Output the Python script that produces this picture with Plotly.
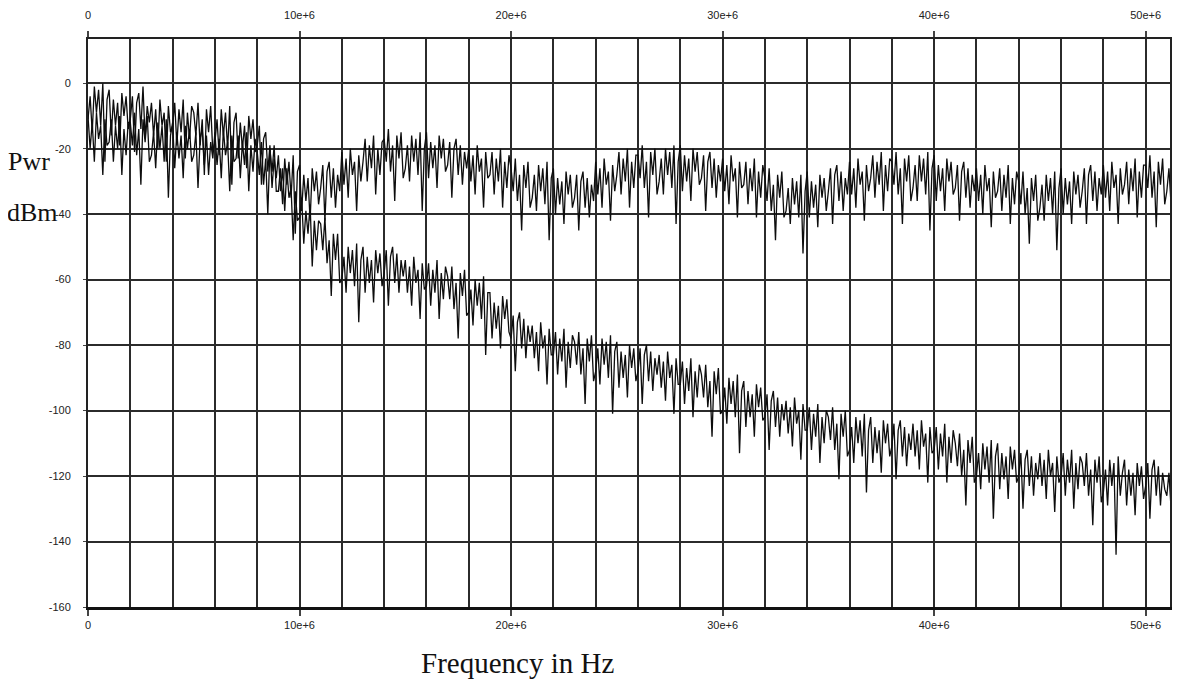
import plotly.graph_objects as go

# Frequency grid: samples every 0.1 MHz from 0 Hz
FREQ_STEP_HZ = 100000

# Upper trace (flat noise floor), dBm, 10 samples per MHz
upper_dbm = [
    -10, -20, -12, -24, -9, -17, -13, -28, -11, -19,
    -18, -11, -24, -13, -20, -10, -28, -14, -22, -12,
    -12, -19, -9, -22, -14, -31, -11, -18, -10, -24,
    -22, -15, -26, -12, -20, -13, -24, -11, -35, -16,
    -12, -26, -15, -23, -16, -29, -13, -20, -14, -24,
    -22, -15, -32, -17, -14, -25, -16, -28, -18, -23,
    -15, -25, -17, -29, -14, -22, -18, -33, -16, -24,
    -23, -16, -29, -18, -25, -15, -33, -19, -27, -17,
    -21, -28, -18, -31, -23, -40, -20, -27, -19, -33,
    -33, -26, -37, -23, -31, -24, -35, -22, -46, -27,
    -25, -39, -28, -36, -29, -42, -26, -33, -27, -37,
    -32, -25, -42, -27, -24, -35, -26, -38, -28, -33,
    -21, -31, -23, -35, -20, -28, -24, -39, -22, -30,
    -24, -17, -30, -19, -26, -16, -34, -20, -28, -18,
    -17, -24, -14, -27, -19, -36, -16, -23, -15, -29,
    -26, -19, -30, -16, -24, -17, -28, -15, -39, -20,
    -15, -29, -18, -26, -19, -32, -16, -23, -17, -27,
    -25, -18, -35, -20, -17, -28, -19, -31, -21, -26,
    -20, -30, -22, -34, -19, -27, -23, -38, -21, -29,
    -28, -21, -34, -23, -30, -20, -38, -24, -32, -22,
    -26, -33, -23, -36, -28, -45, -25, -32, -24, -38,
    -35, -28, -39, -25, -33, -26, -37, -24, -48, -29,
    -26, -40, -29, -37, -30, -43, -27, -34, -28, -38,
    -35, -28, -45, -30, -27, -38, -29, -41, -31, -36,
    -24, -34, -26, -38, -23, -31, -27, -42, -25, -33,
    -28, -21, -34, -23, -30, -20, -38, -24, -32, -22,
    -22, -29, -19, -32, -24, -41, -21, -28, -20, -34,
    -30, -23, -34, -20, -28, -21, -32, -19, -43, -24,
    -19, -33, -22, -30, -23, -36, -20, -27, -21, -31,
    -29, -22, -39, -24, -21, -32, -23, -35, -25, -30,
    -23, -33, -25, -37, -22, -30, -26, -41, -24, -32,
    -31, -24, -37, -26, -33, -23, -41, -27, -35, -25,
    -29, -36, -26, -39, -31, -48, -28, -35, -27, -41,
    -39, -32, -43, -29, -37, -30, -41, -28, -52, -33,
    -27, -41, -30, -38, -31, -44, -28, -35, -29, -39,
    -33, -26, -43, -28, -25, -36, -27, -39, -29, -34,
    -24, -34, -26, -38, -23, -31, -27, -42, -25, -33,
    -29, -22, -35, -24, -31, -21, -39, -25, -33, -23,
    -24, -31, -21, -34, -26, -43, -23, -30, -22, -36,
    -32, -25, -36, -22, -30, -23, -34, -21, -45, -26,
    -22, -36, -25, -33, -26, -39, -23, -30, -24, -34,
    -32, -25, -42, -27, -24, -35, -26, -38, -28, -33,
    -26, -36, -28, -40, -25, -33, -29, -44, -27, -35,
    -33, -26, -39, -28, -35, -25, -43, -29, -37, -27,
    -30, -37, -27, -40, -32, -49, -29, -36, -28, -42,
    -38, -31, -42, -28, -36, -29, -40, -27, -51, -32,
    -26, -40, -29, -37, -30, -43, -27, -34, -28, -38,
    -33, -26, -43, -28, -25, -36, -27, -39, -29, -34,
    -25, -35, -27, -39, -24, -32, -28, -43, -26, -34,
    -31, -24, -37, -26, -33, -23, -41, -27, -35, -25,
    -25, -32, -22, -35, -27, -44, -24, -31, -23, -37,
    -33, -26, -37,
]

# Lower trace (falling spectrum), dBm, 10 samples per MHz
lower_dbm = [
    -11, -4, -15, -1, -9, -2, -13, 0, -24, -5,
    -2, -16, -5, -13, -6, -19, -3, -10, -4, -14,
    -11, -4, -21, -6, -3, -14, -1, -17, -7, -12,
    -6, -16, -8, -20, -5, -13, -9, -24, -7, -15,
    -13, -6, -19, -8, -15, -5, -23, -9, -17, -7,
    -9, -16, -6, -19, -11, -28, -8, -15, -7, -21,
    -18, -11, -22, -8, -16, -9, -20, -7, -31, -12,
    -9, -23, -12, -20, -13, -26, -10, -17, -11, -21,
    -19, -13, -31, -17, -15, -27, -19, -32, -23, -29,
    -22, -33, -26, -39, -26, -35, -32, -48, -33, -42,
    -41, -35, -49, -39, -46, -37, -56, -42, -51, -42,
    -43, -51, -41, -55, -48, -65, -46, -54, -46, -61,
    -60, -53, -64, -50, -58, -51, -62, -49, -73, -54,
    -50, -64, -53, -61, -54, -67, -51, -58, -52, -62,
    -58, -51, -68, -53, -50, -61, -52, -64, -54, -59,
    -54, -64, -56, -68, -53, -61, -57, -72, -55, -63,
    -62, -55, -68, -57, -64, -54, -72, -58, -66, -56,
    -59, -66, -56, -69, -61, -78, -58, -65, -57, -71,
    -70, -63, -74, -60, -68, -61, -72, -59, -83, -64,
    -64, -78, -67, -75, -68, -81, -65, -72, -66, -76,
    -78, -71, -88, -73, -70, -81, -72, -84, -74, -79,
    -74, -84, -76, -88, -73, -81, -77, -92, -75, -83,
    -83, -76, -89, -78, -85, -75, -93, -79, -87, -77,
    -79, -86, -76, -89, -81, -98, -78, -85, -77, -91,
    -88, -81, -92, -78, -86, -79, -90, -77, -101, -82,
    -79, -93, -82, -90, -83, -96, -80, -87, -81, -91,
    -88, -81, -98, -83, -80, -91, -82, -94, -84, -89,
    -83, -93, -85, -97, -82, -90, -86, -101, -84, -92,
    -92, -85, -98, -87, -94, -84, -102, -88, -96, -86,
    -89, -96, -86, -99, -91, -108, -88, -95, -87, -101,
    -100, -93, -104, -90, -98, -91, -102, -89, -113, -94,
    -91, -105, -94, -102, -95, -108, -92, -99, -93, -103,
    -102, -95, -112, -97, -94, -105, -96, -108, -98, -103,
    -97, -107, -99, -111, -96, -104, -100, -115, -98, -106,
    -106, -99, -112, -101, -108, -98, -116, -102, -110, -100,
    -102, -109, -99, -112, -104, -121, -101, -108, -100, -114,
    -112, -105, -116, -102, -110, -103, -114, -101, -125, -106,
    -102, -116, -105, -113, -106, -119, -103, -110, -104, -114,
    -111, -104, -121, -106, -103, -114, -105, -117, -107, -112,
    -104, -114, -106, -118, -103, -111, -107, -122, -105, -113,
    -112, -105, -118, -107, -114, -104, -122, -108, -116, -106,
    -110, -117, -107, -120, -112, -129, -109, -116, -108, -122,
    -120, -113, -124, -110, -118, -111, -122, -109, -133, -114,
    -110, -124, -113, -121, -114, -127, -111, -118, -112, -122,
    -120, -113, -130, -115, -112, -123, -114, -126, -116, -121,
    -113, -123, -115, -127, -112, -120, -116, -131, -114, -122,
    -120, -113, -126, -115, -122, -112, -130, -116, -124, -114,
    -116, -123, -113, -126, -118, -135, -115, -122, -114, -128,
    -125, -118, -129, -115, -123, -116, -144, -114, -126, -119,
    -115, -129, -118, -126, -119, -132, -116, -123, -117, -127,
    -123, -116, -133, -118, -115, -126, -117, -129, -119, -124,
    -126, -119, -130,
]

x_tick_values = [0, 10e6, 20e6, 30e6, 40e6, 50e6]
x_tick_labels = ["0", "10e+6", "20e+6", "30e+6", "40e+6", "50e+6"]
y_tick_values = [0, -20, -40, -60, -80, -100, -120, -140, -160]
y_tick_labels = ["0", "-20", "-40", "-60", "-80", "-100", "-120", "-140", "-160"]

freq_upper = [i * FREQ_STEP_HZ for i in range(len(upper_dbm))]
freq_lower = [i * FREQ_STEP_HZ for i in range(len(lower_dbm))]

LINE = "#0d0d0d"
GRID = "#2b2b2b"
TICKFONT = dict(family="Liberation Sans, Arial, sans-serif", size=11, color="#222222")
SIDEFONT = dict(family="Liberation Serif, Times New Roman, serif", size=26, color="#111111")
XLABELFONT = dict(family="Liberation Serif, Times New Roman, serif", size=29, color="#111111")

fig = go.Figure()
fig.add_trace(go.Scatter(x=freq_lower, y=lower_dbm, mode="lines",
                         line=dict(color=LINE, width=1.3), showlegend=False, hoverinfo="skip"))
fig.add_trace(go.Scatter(x=freq_upper, y=upper_dbm, mode="lines",
                         line=dict(color=LINE, width=1.3), showlegend=False, hoverinfo="skip"))
# carrier for the top frequency axis
fig.add_trace(go.Scatter(x=[None], y=[None], xaxis="x2", mode="lines",
                         showlegend=False, hoverinfo="skip"))

X_RANGE = [0, 51.15e6]
Y_RANGE = [-160, 13.5]

common_x = dict(
    range=X_RANGE,
    tickmode="array",
    tickvals=x_tick_values,
    ticktext=x_tick_labels,
    tickfont=TICKFONT,
    ticks="outside",
    ticklen=6,
    tickwidth=1.5,
    tickcolor="#444444",
    zeroline=False,
    automargin=False,
)

# the page body adds an 8px offset, so margins are shifted to keep the
# plot area at the reference's pixel position
fig.update_layout(
    width=1185,
    height=688,
    margin=dict(l=80, r=23, t=31, b=89),
    paper_bgcolor="white",
    plot_bgcolor="white",
    xaxis=dict(
        **common_x,
        showgrid=True,
        gridcolor=GRID,
        gridwidth=2,
        minor=dict(tickmode="linear", tick0=0, dtick=2e6, showgrid=True,
                   gridcolor=GRID, gridwidth=2, ticks=""),
        showline=True,
        linecolor="#111111",
        linewidth=3,
        mirror=False,
        side="bottom",
        ticklabelstandoff=0,
    ),
    xaxis2=dict(
        **common_x,
        overlaying="x",
        side="top",
        showgrid=False,
        showline=True,
        linecolor="#222222",
        linewidth=2,
        ticklabelstandoff=8,
    ),
    yaxis=dict(
        range=Y_RANGE,
        tickmode="array",
        tickvals=y_tick_values,
        ticktext=y_tick_labels,
        tickfont=TICKFONT,
        ticks="outside",
        ticklen=3,
        tickcolor="#444444",
        ticklabelstandoff=10,
        showgrid=True,
        gridcolor=GRID,
        gridwidth=2,
        zeroline=False,
        showline=True,
        linecolor="#222222",
        linewidth=2,
        mirror=True,
        automargin=False,
    ),
    annotations=[
        dict(text="Pwr", xref="paper", yref="paper", x=-0.0758, y=0.784,
             xanchor="left", yanchor="middle", showarrow=False, font=SIDEFONT),
        dict(text="dBm", xref="paper", yref="paper", x=-0.0767, y=0.694,
             xanchor="left", yanchor="middle", showarrow=False, font=SIDEFONT),
        dict(text="Frequency in Hz", xref="paper", yref="paper", x=0.397, y=-0.098,
             xanchor="center", yanchor="middle", showarrow=False, font=XLABELFONT),
    ],
)

fig.write_html("out.html")
